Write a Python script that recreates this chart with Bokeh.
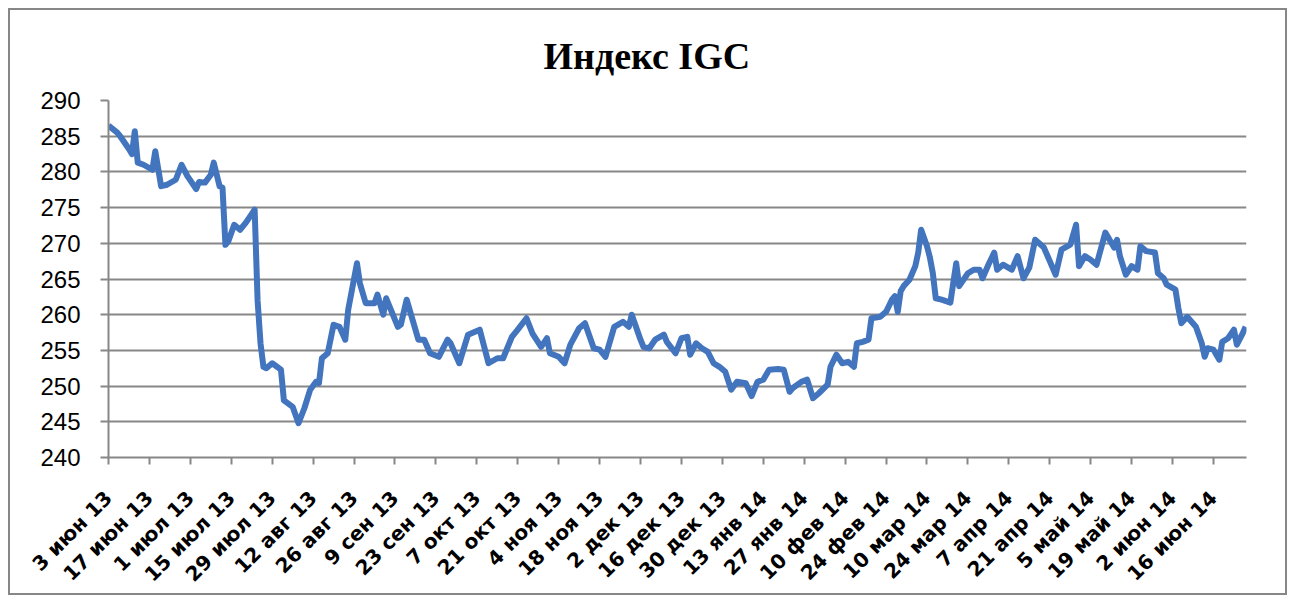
import math
from bokeh.plotting import figure
from bokeh.models import Range1d, FixedTicker
from bokeh.embed import file_html
from bokeh.resources import INLINE

# ---- data ----
start_date = "2013-06-03"          # day 0
day_offsets = [
    0, 3, 4, 7, 8, 9, 10, 12, 15, 16, 18, 20, 23, 25, 27, 30, 31, 33, 35, 36,
    38, 39, 40, 41, 43, 45, 47, 50, 51, 52, 53, 54, 56, 59, 60, 63, 65, 67, 69, 71,
    72, 73, 75, 77, 79, 81, 82, 85, 86, 88, 91, 92, 94, 95, 99, 100, 102, 106, 108, 110,
    113, 116, 117, 120, 123, 127, 130, 133, 135, 138, 140, 143, 145, 148, 150, 151, 154, 156, 158, 161,
    163, 166, 168, 170, 173, 176, 178, 179, 182, 183, 185, 187, 190, 191, 194, 196, 198, 199, 201, 203,
    205, 207, 209, 211, 213, 215, 218, 220, 222, 224, 226, 229, 231, 233, 234, 237, 239, 241, 243, 246,
    247, 249, 251, 253, 255, 256, 258, 260, 261, 264, 266, 268, 269, 270, 271, 272, 274, 276, 277, 278,
    280, 281, 282, 283, 285, 288, 290, 291, 294, 296, 298, 299, 301, 303, 304, 306, 309, 311, 313, 315,
    317, 320, 322, 324, 326, 329, 331, 332, 334, 336, 338, 341, 342, 344, 345, 346, 348, 350, 352, 353,
    355, 358, 359, 361, 362, 365, 366, 367, 369, 372, 374, 375, 376, 378, 380, 381, 383, 385, 386, 388,
    389,
]
igc_values = [
    286.5, 285.5, 285.0, 283.2, 282.5, 285.7, 281.3, 281.0, 280.3, 282.9, 278.0, 278.2, 278.9, 281.0, 279.4, 277.6, 278.6, 278.5, 279.6, 281.3,
    278.0, 277.8, 269.8, 270.3, 272.6, 271.9, 272.9, 274.7, 262.0, 256.0, 252.7, 252.5, 253.2, 252.3, 248.0, 247.1, 244.8, 246.9, 249.5, 250.6,
    250.4, 253.9, 254.6, 258.6, 258.3, 256.5, 260.7, 267.2, 264.4, 261.6, 261.6, 262.8, 260.0, 262.3, 258.3, 258.6, 262.1, 256.5, 256.5, 254.6,
    254.1, 256.5, 256.0, 253.2, 257.2, 257.9, 253.2, 253.9, 253.9, 256.9, 257.9, 259.5, 257.4, 255.5, 256.7, 254.6, 254.1, 253.2, 255.8, 258.1,
    258.8, 255.3, 255.1, 254.1, 258.3, 259.0, 258.3, 260.0, 256.5, 255.5, 255.3, 256.5, 257.2, 256.2, 254.6, 256.7, 256.9, 254.4, 256.0, 255.3,
    254.8, 253.2, 252.7, 252.0, 249.5, 250.6, 250.4, 248.6, 250.6, 250.9, 252.3, 252.4, 252.3, 249.2, 249.7, 250.6, 250.9, 248.3, 249.0, 250.2,
    252.7, 254.4, 253.2, 253.4, 252.7, 256.0, 256.2, 256.5, 259.5, 259.7, 260.4, 262.1, 262.6, 260.4, 263.3, 264.0, 264.9, 266.8, 268.7, 271.9,
    269.6, 268.0, 265.8, 262.3, 262.1, 261.7, 267.2, 264.0, 265.8, 266.3, 266.3, 265.1, 267.0, 268.7, 266.3, 267.0, 266.3, 268.2, 265.1, 266.6,
    270.5, 269.4, 267.5, 265.6, 269.1, 269.8, 272.6, 266.8, 268.2, 267.7, 267.0, 271.5, 270.8, 269.4, 270.5, 268.2, 265.6, 266.8, 266.3, 269.6,
    268.9, 268.7, 265.8, 265.1, 264.2, 263.5, 260.9, 258.8, 259.7, 258.3, 256.0, 254.1, 255.3, 255.1, 253.7, 256.2, 256.7, 257.9, 255.8, 257.4,
    258.3,
]
tick_days = list(range(0, 379, 14))
tick_labels = [
    "3 июн 13", "17 июн 13", "1 июл 13", "15 июл 13", "29 июл 13", "12 авг 13",
    "26 авг 13", "9 сен 13", "23 сен 13", "7 окт 13", "21 окт 13", "4 ноя 13",
    "18 ноя 13", "2 дек 13", "16 дек 13", "30 дек 13", "13 янв 14", "27 янв 14",
    "10 фев 14", "24 фев 14", "10 мар 14", "24 мар 14", "7 апр 14", "21 апр 14",
    "5 май 14", "19 май 14", "2 июн 14", "16 июн 14",
]
y_ticks = [240, 245, 250, 255, 260, 265, 270, 275, 280, 285, 290]
title_text = "Индекс IGC"

GRAY = "#878787"

p = figure(
    width=1279, height=587,
    x_range=Range1d(0, 389.3), y_range=Range1d(240, 290),
    output_backend="svg", toolbar_location=None,
    min_border_left=98, min_border_right=43, min_border_top=90, min_border_bottom=136,
)
p.margin = (8, 8, 8, 8)
p.styles = {"border": f"2px solid {GRAY}"}
p.outline_line_color = None
p.background_fill_color = "white"
p.border_fill_color = "white"

p.line(day_offsets, igc_values, line_color="#4275BE", line_width=6, line_join="round")

# title
p.title.text = title_text
p.title.align = "left"
p.title.offset = 435
p.title.standoff = 46
p.title.vertical_align = "middle"
p.title.text_font = "Liberation Serif"
p.title.text_font_style = "bold"
p.title.text_font_size = "38px"
p.title.text_color = "black"

# axes
p.xaxis.ticker = FixedTicker(ticks=tick_days)
p.xaxis.major_label_overrides = {d: lab for d, lab in zip(tick_days, tick_labels)}
p.xaxis.major_label_orientation = math.pi / 4
p.xaxis.major_label_text_font = "DejaVu Sans"
p.xaxis.major_label_text_font_style = "bold"
p.xaxis.major_label_text_font_size = "20px"
p.xaxis.major_label_text_color = "black"
p.xaxis.major_label_standoff = 30

p.yaxis.ticker = FixedTicker(ticks=y_ticks)
p.yaxis.major_label_text_font = "Liberation Sans"
p.yaxis.major_label_text_font_size = "24px"
p.yaxis.major_label_text_color = "black"
p.yaxis.major_label_standoff = 20

for ax in (p.xaxis, p.yaxis):
    ax.axis_line_color = GRAY
    ax.axis_line_width = 2
    ax.major_tick_line_color = GRAY
    ax.major_tick_line_width = 2
    ax.major_tick_in = 0
    ax.minor_tick_line_color = None
p.xaxis.major_tick_out = 7
p.yaxis.major_tick_out = 8

p.xgrid.visible = False
p.ygrid.ticker = FixedTicker(ticks=y_ticks)
p.ygrid.grid_line_color = GRAY
p.ygrid.grid_line_width = 2

open("out.html", "w").write(file_html(p, INLINE))
